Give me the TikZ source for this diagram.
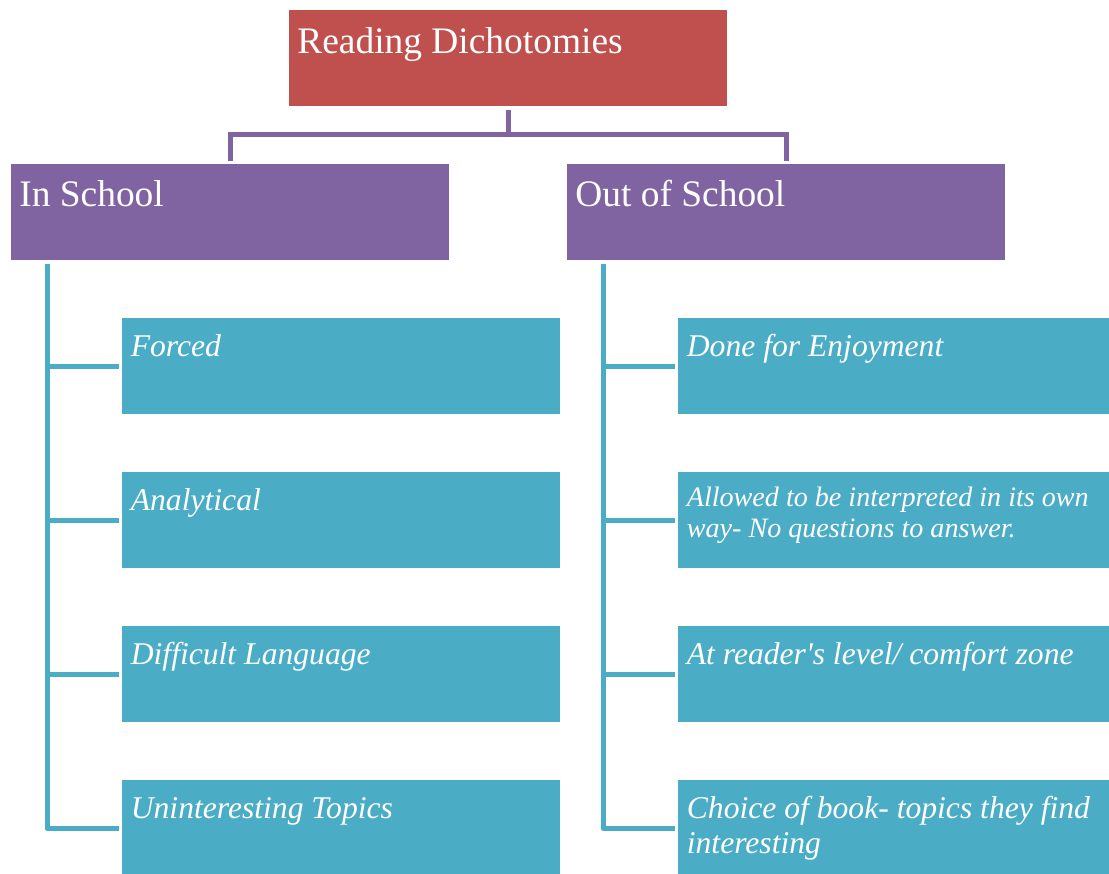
\documentclass[tikz,border=0pt]{standalone}
\usepackage{fontspec}
\setmainfont{Liberation Serif}
\usepackage{xcolor}
\definecolor{titlered}{HTML}{C0504D}
\definecolor{grouppurple}{HTML}{8064A2}
\definecolor{itemteal}{HTML}{4BACC6}

\begin{document}
\begin{tikzpicture}[x=0.02cm,y=-0.02cm,
  box/.style={anchor=north west,inner sep=0,minimum width=8.76cm,minimum height=1.92cm},
  headtext/.style={anchor=base west,inner sep=0,text=white,font=\fontsize{21.3}{25.6}\selectfont},
  itemtext/.style={anchor=base west,inner sep=0,text=white,align=left,font=\fontsize{18}{20}\selectfont\itshape},
  stem/.style={grouppurple,line width=0.09cm,shorten <=1.7pt,shorten >=1.7pt},
  branch/.style={itemteal,line width=0.1cm,line join=round,shorten <=1.7pt,shorten >=1.7pt}]
\useasboundingbox (0,0) rectangle (1109,874);
\clip (0,0) rectangle (1109,874);
\node[box,fill=titlered] (title) at (289,10) {};
\node[box,fill=grouppurple] (inschool) at (11,164) {};
\node[box,fill=grouppurple] (outschool) at (567,164) {};
\node[box,fill=itemteal] (forced) at (122,318) {};
\node[box,fill=itemteal] (analytical) at (122,472) {};
\node[box,fill=itemteal] (difficult) at (122,626) {};
\node[box,fill=itemteal] (uninteresting) at (122,780) {};
\node[box,fill=itemteal] (enjoyment) at (678,318) {};
\node[box,fill=itemteal] (interpreted) at (678,472) {};
\node[box,fill=itemteal] (level) at (678,626) {};
\node[box,fill=itemteal] (choice) at (678,780) {};
% base of a two-line label is its last line
\node[headtext] (title-label) at ([shift={(8,43.3)}]title.north west) {Reading Dichotomies};
\node[headtext] (inschool-label) at ([shift={(8,42.7)}]inschool.north west) {In School};
\node[headtext] (outschool-label) at ([shift={(8,42.7)}]outschool.north west) {Out of School};
\node[itemtext] (forced-label) at ([shift={(8.5,38.5)}]forced.north west) {Forced};
\node[itemtext] (analytical-label) at ([shift={(8.5,38.5)}]analytical.north west) {Analytical};
\node[itemtext] (difficult-label) at ([shift={(8.5,38.5)}]difficult.north west) {Difficult Language};
\node[itemtext] (uninteresting-label) at ([shift={(8.5,38.5)}]uninteresting.north west) {Uninteresting Topics};
\node[itemtext] (enjoyment-label) at ([shift={(8.5,38.5)}]enjoyment.north west) {Done for Enjoyment};
\node[itemtext,font=\fontsize{16}{18.2}\selectfont\itshape] (interpreted-label) at ([shift={(8.5,66)}]interpreted.north west) {Allowed to be interpreted in its own\\way- No questions to answer.};
\node[itemtext] (level-label) at ([shift={(8.5,38.5)}]level.north west) {At reader\textquotesingle s level/ comfort zone};
\node[itemtext] (choice-label) at ([shift={(8.5,73.5)}]choice.north west) {Choice of book- topics they find\\interesting};
\draw[stem] (title.south) -- ++(0,28) -| (inschool.north);
\draw[stem] (title.south) -- ++(0,28) -| (outschool.north);
\foreach \n in {forced,analytical,difficult,uninteresting}
  \draw[branch] ([shift={(36,0)}]inschool.south west) |- (\n.west);
\foreach \n in {enjoyment,interpreted,level,choice}
  \draw[branch] ([shift={(36,0)}]outschool.south west) |- (\n.west);
\end{tikzpicture}
\end{document}
